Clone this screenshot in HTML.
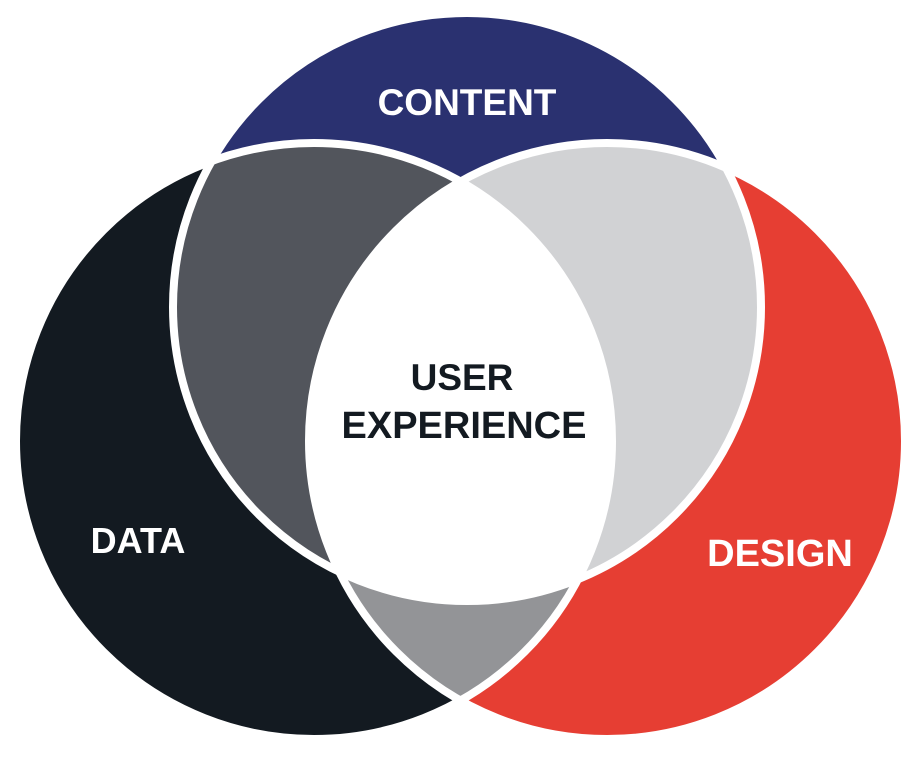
<!DOCTYPE html>
<html><head><style>html,body{margin:0;padding:0;background:#fff;}svg{display:block}</style></head>
<body>
<svg width="923" height="768" viewBox="0 0 923 768" xmlns="http://www.w3.org/2000/svg">
<defs>
<clipPath id="cC"><circle cx="467" cy="307" r="294"/></clipPath>
<clipPath id="cD"><circle cx="314" cy="441" r="298"/></clipPath>
<clipPath id="cG"><circle cx="607" cy="441" r="298"/></clipPath>
</defs>
<circle cx="467" cy="307" r="294" fill="#2a3170"/>
<circle cx="314" cy="441" r="298" fill="#131a21"/>
<circle cx="607" cy="441" r="298" fill="#e63e33"/>
<g clip-path="url(#cC)"><circle cx="314" cy="441" r="298" fill="#52555c"/><circle cx="607" cy="441" r="298" fill="#d1d2d4"/></g>
<g clip-path="url(#cD)"><circle cx="607" cy="441" r="298" fill="#939497"/></g>
<g clip-path="url(#cC)"><g clip-path="url(#cD)"><circle cx="607" cy="441" r="298" fill="#fff"/></g></g>
<g fill="none" stroke="#fff" stroke-width="8">
<circle cx="467" cy="307" r="294"/>
<circle cx="314" cy="441" r="298"/>
<circle cx="607" cy="441" r="298"/>
</g>
<g font-family="Liberation Sans, sans-serif" font-weight="bold" text-anchor="middle">
<text x="467" y="115" fill="#fff" font-size="37">CONTENT</text>
<text x="462" y="390" fill="#131a21" font-size="37">USER</text>
<text x="464" y="438" fill="#131a21" font-size="38">EXPERIENCE</text>
<text x="138" y="553" fill="#fff" font-size="36">DATA</text>
<text x="780" y="566" fill="#fff" font-size="38">DESIGN</text>
</g>
</svg>
</body></html>
